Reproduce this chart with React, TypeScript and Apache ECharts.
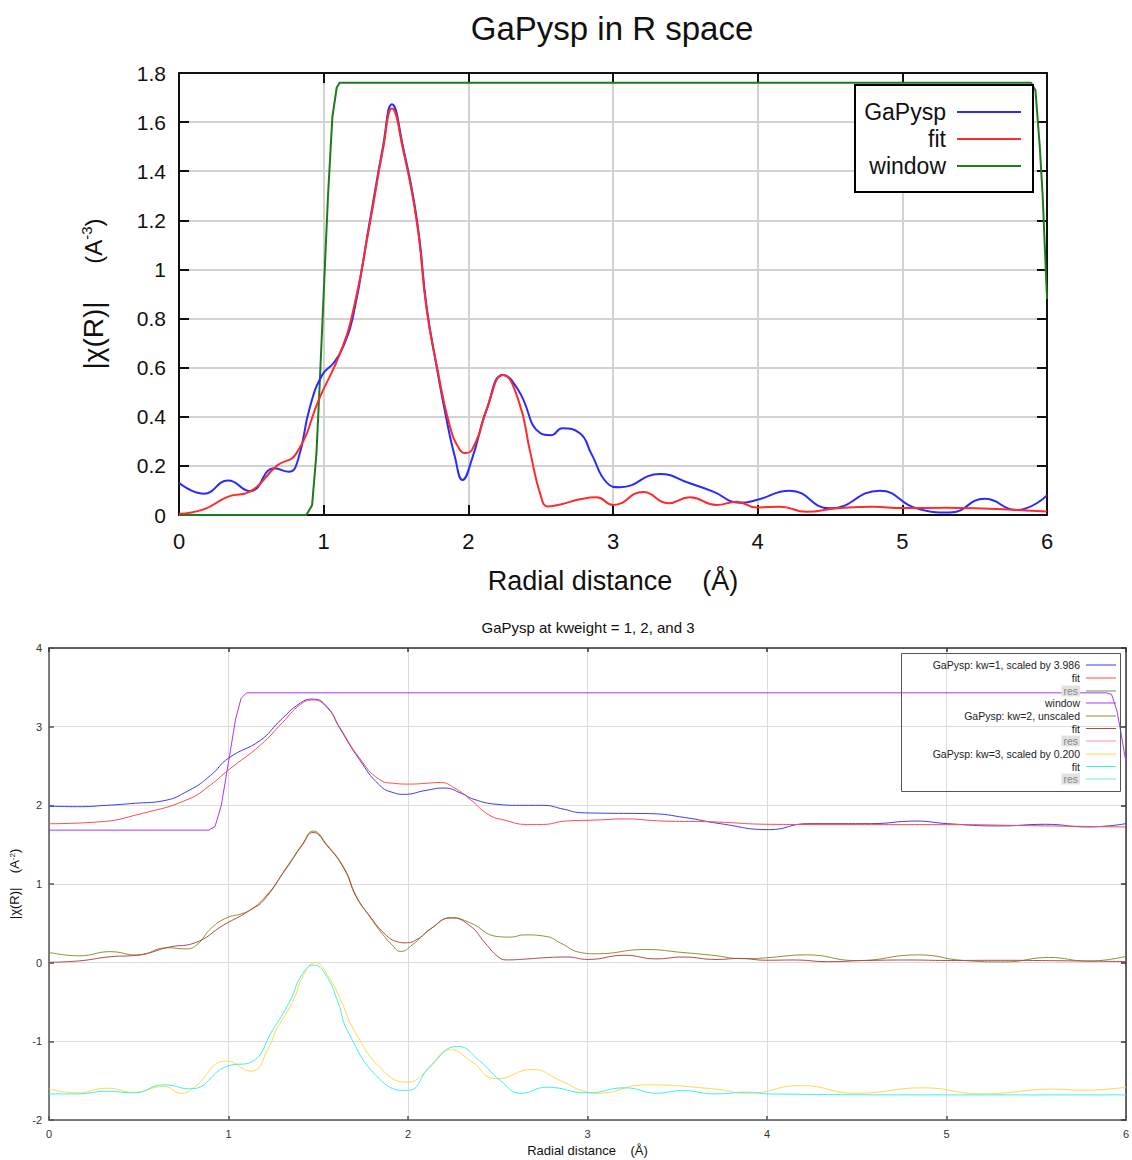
import React, { useEffect, useRef } from "react";
import * as echarts from "echarts";

// ---------- data (x in Å, y in |χ(R)|) ----------
const topTitle = "GaPysp in R space";
const bottomTitle = "GaPysp at kweight = 1, 2, and 3";

// kw=2 data & fit (top chart, and middle pair of bottom chart)
const dataKw2: number[][] = [
  [0, 0.131], [0.17, 0.087], [0.34, 0.14], [0.49, 0.097], [0.66, 0.19], [0.76, 0.176], [0.82, 0.22],
  [0.905, 0.44], [0.99, 0.57], [1.07, 0.62], [1.13, 0.68], [1.2, 0.8], [1.32, 1.2], [1.41, 1.5],
  [1.472, 1.673], [1.548, 1.5], [1.645, 1.2], [1.711, 0.85], [1.781, 0.604], [1.85, 0.387],
  [1.907, 0.237], [1.96, 0.143], [2.023, 0.224], [2.126, 0.428], [2.241, 0.57], [2.345, 0.509],
  [2.5, 0.332], [2.57, 0.325], [2.65, 0.353], [2.771, 0.333], [2.85, 0.25], [2.96, 0.13], [3.048, 0.113],
  [3.324, 0.167], [3.531, 0.129], [3.693, 0.095], [3.877, 0.05], [3.992, 0.061], [4.222, 0.099],
  [4.499, 0.027], [4.845, 0.099], [5.098, 0.027], [5.328, 0.01], [5.57, 0.066], [5.789, 0.02], [6, 0.08],
];
const fitKw2: number[][] = [
  [0, 0.005], [0.17, 0.023], [0.34, 0.075], [0.49, 0.095], [0.675, 0.2], [0.81, 0.25], [0.974, 0.48],
  [1.113, 0.658], [1.205, 0.835], [1.32, 1.19], [1.41, 1.49], [1.472, 1.655], [1.548, 1.49],
  [1.645, 1.19], [1.711, 0.84], [1.781, 0.61], [1.873, 0.36], [1.942, 0.265], [1.985, 0.252],
  [2.057, 0.305], [2.126, 0.43], [2.241, 0.57], [2.345, 0.47], [2.43, 0.25], [2.5, 0.08],
  [2.55, 0.035], [2.65, 0.045], [2.771, 0.064], [2.887, 0.072], [3.001, 0.041], [3.209, 0.094],
  [3.381, 0.048], [3.531, 0.072], [3.716, 0.041], [3.854, 0.054], [3.992, 0.031], [4.153, 0.034],
  [4.338, 0.013], [4.545, 0.027], [4.798, 0.034], [5.0, 0.028], [5.3, 0.03], [5.6, 0.025], [6, 0.014],
];
const windowTop: number[][] = [
  [0, 0], [0.88, 0], [0.92, 0.04], [0.95, 0.25], [0.97, 0.5], [1.0, 0.9], [1.03, 1.3], [1.06, 1.62],
  [1.09, 1.74], [1.11, 1.76], [5.89, 1.76], [5.92, 1.73], [5.95, 1.5], [5.97, 1.3], [6.0, 0.88],
];

// kw=1 (scaled by 3.986)
const dataKw1: number[][] = [
  [0, 1.99], [0.16, 1.983], [0.32, 2.0], [0.48, 2.026], [0.63, 2.055], [0.78, 2.19], [0.9, 2.38],
  [1.0, 2.6], [1.18, 2.83], [1.28, 3.06], [1.4, 3.3], [1.47, 3.35], [1.55, 3.25], [1.62, 2.98],
  [1.73, 2.58], [1.84, 2.26], [1.92, 2.16], [1.98, 2.14], [2.1, 2.19], [2.2, 2.22], [2.3, 2.15],
  [2.367, 2.077], [2.495, 2.013], [2.62, 2.0], [2.749, 2.0], [2.87, 1.95], [2.96, 1.907], [3.1, 1.9],
  [3.35, 1.894], [3.545, 1.844], [3.74, 1.767], [4.013, 1.691], [4.227, 1.767], [4.577, 1.767],
  [4.83, 1.8], [5.006, 1.767], [5.298, 1.738], [5.551, 1.759], [5.785, 1.725], [6, 1.767],
];
const fitKw1: number[][] = [
  [0, 1.766], [0.265, 1.787], [0.52, 1.898], [0.775, 2.077], [0.9, 2.26], [1.0, 2.45], [1.18, 2.77],
  [1.3, 3.05], [1.4, 3.28], [1.47, 3.34], [1.55, 3.24], [1.62, 2.99], [1.73, 2.6], [1.84, 2.33],
  [1.92, 2.28], [2.01, 2.27], [2.1, 2.28], [2.18, 2.29], [2.26, 2.22], [2.346, 2.077], [2.45, 1.88],
  [2.537, 1.813], [2.665, 1.757], [2.749, 1.757], [2.877, 1.8], [3.047, 1.813], [3.214, 1.827],
  [3.409, 1.801], [3.7, 1.79], [4.013, 1.759], [4.5, 1.755], [5.0, 1.755], [5.5, 1.74], [6, 1.725],
];
const windowBottom: number[][] = [
  [0, 1.685], [0.89, 1.685], [0.925, 1.73], [0.96, 2.0], [1.0, 2.55], [1.04, 3.1], [1.07, 3.36],
  [1.1, 3.43], [5.89, 3.43], [5.92, 3.41], [5.95, 3.2], [5.97, 2.95], [6.0, 2.55],
];

// kw=3 (scaled by 0.200)
const dataKw3: number[][] = [
  [0, -1.604], [0.155, -1.655], [0.323, -1.596], [0.472, -1.647], [0.64, -1.574], [0.74, -1.66],
  [0.809, -1.583], [0.989, -1.251], [1.126, -1.379], [1.226, -1.072], [1.265, -0.86], [1.357, -0.5],
  [1.42, -0.15], [1.485, 0.0], [1.55, -0.15], [1.63, -0.5], [1.7, -0.86], [1.86, -1.37],
  [1.999, -1.519], [2.1, -1.38], [2.237, -1.106], [2.35, -1.25], [2.494, -1.477], [2.693, -1.357],
  [2.85, -1.5], [3.0, -1.647], [3.055, -1.66], [3.328, -1.553], [3.7, -1.604], [3.894, -1.66],
  [4.186, -1.562], [4.498, -1.66], [4.869, -1.591], [5.2, -1.668], [5.59, -1.608], [5.77, -1.62],
  [6, -1.583],
];
const fitKw3: number[][] = [
  [0, -1.668], [0.155, -1.668], [0.323, -1.634], [0.472, -1.655], [0.64, -1.553], [0.789, -1.604],
  [0.989, -1.319], [1.126, -1.264], [1.245, -0.86], [1.34, -0.5], [1.41, -0.15], [1.475, -0.03],
  [1.54, -0.15], [1.61, -0.5], [1.662, -0.86], [1.84, -1.477], [1.995, -1.626], [2.13, -1.3],
  [2.276, -1.064], [2.4, -1.25], [2.514, -1.498], [2.633, -1.66], [2.772, -1.583], [3.0, -1.655],
  [3.21, -1.591], [3.386, -1.66], [3.523, -1.626], [3.718, -1.668], [3.894, -1.647], [4.0, -1.668],
  [4.947, -1.681], [6, -1.681],
];

const topLegend = ["GaPysp", "fit", "window"];
const bottomLegend = [
  "GaPysp: kw=1, scaled by 3.986", "fit", "res", "window",
  "GaPysp: kw=2, unscaled", "fit", "res",
  "GaPysp: kw=3, scaled by 0.200", "fit", "res",
];

// ---------- styles ----------
const FONT = "Liberation Sans, Arial, sans-serif";
const topColors = ["#2a2aff", "#ff2a2a", "#1f7a1f"];
const bottomColors = [
  "#3a3aff", "#ff4a4a", "#5f9f5f", "#a93ae8",
  "#8f8f35", "#b24848", "#ff88c8",
  "#ffd84a", "#3cf0f0", "#6ef2b4",
];

export default function App() {
  const ref = useRef<HTMLDivElement>(null);

  useEffect(() => {
    if (!ref.current) return;
    const chart = echarts.init(ref.current, null, { renderer: "svg" });

    const xCommon = { min: 0, max: 6, interval: 1, type: "value" as const };

    const lineSeries = (
      data: number[][], color: string, width: number, xi: number, yi: number, smooth: number | boolean
    ) => ({
      type: "line",
      data,
      xAxisIndex: xi,
      yAxisIndex: yi,
      showSymbol: false,
      symbol: "none",
      smooth,
      lineStyle: { color, width },
      itemStyle: { color },
      z: 3,
    });

    const graphics: any[] = [];
    graphics.push({
      type: "text", x: 612, y: 28,
      style: { text: topTitle, fontSize: 33, fontFamily: FONT, fill: "#111", align: "center", verticalAlign: "middle" },
    });
    graphics.push({
      type: "text", x: 588, y: 627,
      style: { text: bottomTitle, fontSize: 15, fontFamily: FONT, fill: "#111", align: "center", verticalAlign: "middle" },
    });
    // top legend
    graphics.push({
      type: "rect", shape: { x: 855, y: 85, width: 178, height: 107 },
      style: { fill: "#fff", stroke: "#000", lineWidth: 2 }, z: 10,
    });
    topLegend.forEach((t, i) => {
      const y = 112 + i * 27;
      graphics.push({
        type: "text", x: 946, y, z: 11,
        style: { text: t, fontSize: 23, fontFamily: FONT, fill: "#111", align: "right", verticalAlign: "middle" },
      });
      graphics.push({
        type: "line", z: 11, shape: { x1: 957, y1: y, x2: 1021, y2: y },
        style: { stroke: topColors[i], lineWidth: 2 },
      });
    });
    // bottom legend
    graphics.push({
      type: "rect", shape: { x: 901.5, y: 653.5, width: 219, height: 138 },
      style: { fill: "none", stroke: "#555", lineWidth: 1 }, z: 10,
    });
    const legendY = [665, 678, 691, 703, 716, 728.5, 741, 754, 766.5, 779];
    bottomLegend.forEach((t, i) => {
      const y = legendY[i];
      const isRes = t === "res";
      graphics.push({
        type: "text", x: 1080, y, z: 11,
        style: {
          text: t, fontSize: 10.5, fontFamily: FONT, fill: isRes ? "#888" : "#222",
          align: "right", verticalAlign: "middle",
          backgroundColor: isRes ? "#e2e2e2" : undefined,
          padding: isRes ? [0, 2, 0, 2] : undefined,
        },
      });
      graphics.push({
        type: "line", z: 11, shape: { x1: 1086, y1: y, x2: 1116, y2: y },
        style: { stroke: bottomColors[i], lineWidth: 1 },
      });
    });

    const option: any = {
      animation: false,
      backgroundColor: "#fff",
      textStyle: { fontFamily: FONT },
      grid: [
        { left: 179, top: 73, width: 868, height: 442, containLabel: false },
        { left: 49, top: 648, width: 1079, height: 472, containLabel: false },
      ],
      xAxis: [
        {
          ...xCommon, gridIndex: 0, position: "bottom",
          axisLine: { show: true, onZero: false, lineStyle: { color: "#111", width: 2 } },
          axisTick: { show: true, inside: true, length: 10, lineStyle: { color: "#111", width: 2 } },
          axisLabel: { fontSize: 22, color: "#111", margin: 15, fontFamily: FONT },
          splitLine: { show: true, lineStyle: { color: "#d2d2d2", width: 2 } },
          name: "Radial distance    (Å)",
          nameLocation: "middle",
          nameGap: 52,
          nameTextStyle: { fontSize: 27, color: "#111", fontFamily: FONT },
        },
        {
          ...xCommon, gridIndex: 0, position: "top",
          axisLine: { show: true, onZero: false, lineStyle: { color: "#111", width: 2 } },
          axisTick: { show: true, inside: true, length: 10, lineStyle: { color: "#111", width: 2 } },
          axisLabel: { show: false },
          splitLine: { show: false },
        },
        {
          ...xCommon, gridIndex: 1, position: "bottom",
          axisLine: { show: true, onZero: false, lineStyle: { color: "#555", width: 1.5 } },
          axisTick: { show: true, inside: true, length: 4, lineStyle: { color: "#555", width: 1.5 } },
          axisLabel: { fontSize: 11, color: "#333", margin: 8, fontFamily: FONT },
          splitLine: { show: true, lineStyle: { color: "#dcdcdc", width: 1 } },
          name: "Radial distance    (Å)",
          nameLocation: "middle",
          nameGap: 24,
          nameTextStyle: { fontSize: 13, color: "#111", fontFamily: FONT },
        },
        {
          ...xCommon, gridIndex: 1, position: "top",
          axisLine: { show: true, onZero: false, lineStyle: { color: "#333", width: 1.5 } },
          axisTick: { show: true, inside: true, length: 4, lineStyle: { color: "#333", width: 1.5 } },
          axisLabel: { show: false },
          splitLine: { show: false },
        },
      ],
      yAxis: [
        {
          type: "value", gridIndex: 0, position: "left", min: 0, max: 1.8, interval: 0.2,
          axisLine: { show: true, onZero: false, lineStyle: { color: "#111", width: 2 } },
          axisTick: { show: true, inside: true, length: 10, lineStyle: { color: "#111", width: 2 } },
          axisLabel: { fontSize: 21, color: "#111", margin: 13, fontFamily: FONT },
          splitLine: { show: true, lineStyle: { color: "#d2d2d2", width: 2 } },
          name: "{a||χ(R)|}     {b|(A}{s|-3}{b|)}",
          nameLocation: "middle",
          nameGap: 72,
          nameRotate: 90,
          nameTextStyle: {
            fontSize: 27, color: "#111", fontFamily: FONT,
            rich: {
              a: { fontSize: 28, color: "#111", fontFamily: FONT },
              b: { fontSize: 24, color: "#111", fontFamily: FONT },
              s: { fontSize: 15, color: "#111", fontFamily: FONT, verticalAlign: "top" },
            },
          },
        },
        {
          type: "value", gridIndex: 0, position: "right", min: 0, max: 1.8, interval: 0.2,
          axisLine: { show: true, onZero: false, lineStyle: { color: "#111", width: 2 } },
          axisTick: { show: true, inside: true, length: 10, lineStyle: { color: "#111", width: 2 } },
          axisLabel: { show: false },
          splitLine: { show: false },
        },
        {
          type: "value", gridIndex: 1, position: "left", min: -2, max: 4, interval: 1,
          axisLine: { show: true, onZero: false, lineStyle: { color: "#555", width: 1.5 } },
          axisTick: { show: true, inside: true, length: 5, lineStyle: { color: "#555", width: 1.5 } },
          axisLabel: { fontSize: 11, color: "#333", margin: 7, fontFamily: FONT },
          splitLine: { show: true, lineStyle: { color: "#dcdcdc", width: 1 } },
          name: "{a||χ(R)|}    {a|(A}{s|-2}{a|)}",
          nameLocation: "middle",
          nameGap: 24,
          nameRotate: 90,
          nameTextStyle: {
            fontSize: 13, color: "#111", fontFamily: FONT,
            rich: {
              a: { fontSize: 13, color: "#111", fontFamily: FONT },
              s: { fontSize: 8, color: "#111", fontFamily: FONT, verticalAlign: "top" },
            },
          },
        },
        {
          type: "value", gridIndex: 1, position: "right", min: -2, max: 4, interval: 1,
          axisLine: { show: true, onZero: false, lineStyle: { color: "#333", width: 1.5 } },
          axisTick: { show: true, inside: true, length: 5, lineStyle: { color: "#333", width: 1.5 } },
          axisLabel: { show: false },
          splitLine: { show: false },
        },
      ],
      series: [
        lineSeries(windowTop, topColors[2], 2, 0, 0, false),
        lineSeries(dataKw2, topColors[0], 2, 0, 0, 0.5),
        lineSeries(fitKw2, topColors[1], 2, 0, 0, 0.5),

        lineSeries(windowBottom, bottomColors[3], 1, 2, 2, false),
        lineSeries(dataKw1, bottomColors[0], 1, 2, 2, 0.5),
        lineSeries(fitKw1, bottomColors[1], 1, 2, 2, 0.5),
        lineSeries(dataKw2, bottomColors[4], 1, 2, 2, 0.5),
        lineSeries(fitKw2, bottomColors[5], 1, 2, 2, 0.5),
        lineSeries(dataKw3, bottomColors[7], 1, 2, 2, 0.5),
        lineSeries(fitKw3, bottomColors[8], 1, 2, 2, 0.5),
      ],
      graphic: graphics,
    };

    chart.setOption(option);
    return () => chart.dispose();
  }, []);

  return (
    <div
      ref={ref}
      style={{ position: "absolute", left: 0, top: 0, width: 1132, height: 1160, background: "#fff" }}
    />
  );
}
